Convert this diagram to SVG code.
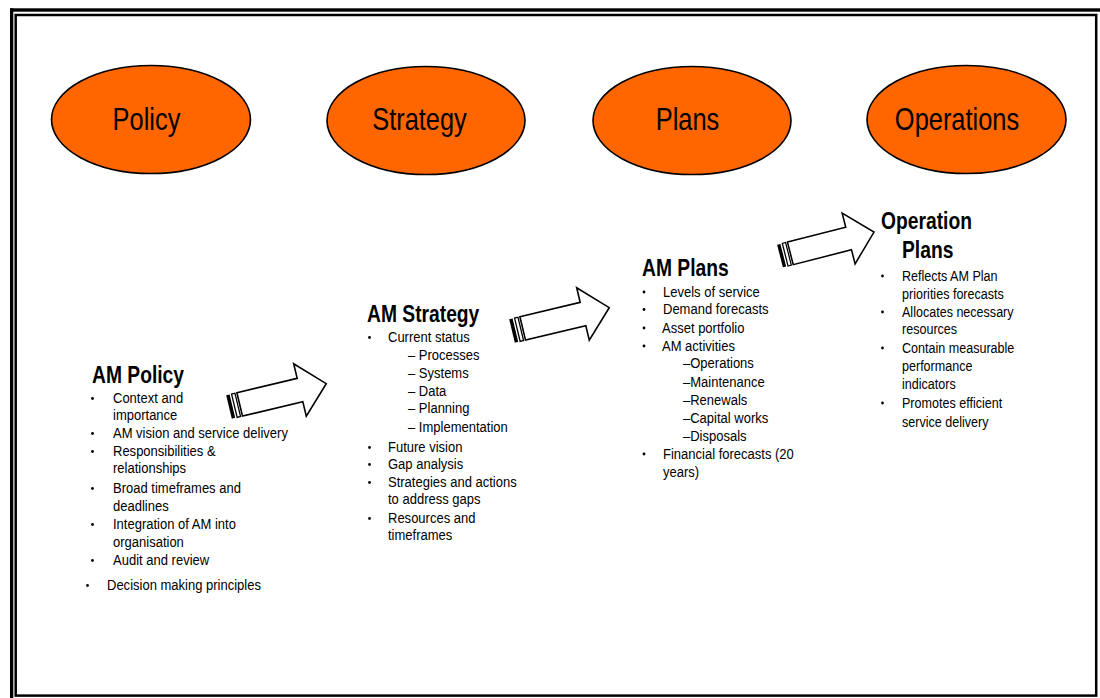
<svg xmlns="http://www.w3.org/2000/svg" xmlns:xlink="http://www.w3.org/1999/xlink" width="1100" height="698" viewBox="0 0 1100 698">
  <style>
    .stage { fill: #FF6600; stroke: #000; stroke-width: 1.6; }
    .stage-label { font-family: "Liberation Sans", Arial, sans-serif; font-size: 31px; fill: #000; text-anchor: middle; }
    .head { font-family: "Liberation Sans", Arial, sans-serif; font-size: 23.5px; font-weight: bold; fill: #000; }
    .item { font-family: "Liberation Sans", Arial, sans-serif; font-size: 15.5px; fill: #000; }
    .dot { fill: #000; }
    .frame { fill: none; stroke: #000; stroke-width: 2.5; }
    .frame-bar { fill: #000; }
  </style>
  <defs>
    <!-- striped block arrow, tail at origin, pointing along +x -->
    <g id="striped-arrow">
      <rect x="0" y="-12" width="3.5" height="24" fill="#000"/>
      <rect x="5.5" y="-12" width="3.5" height="24" fill="#fff" stroke="#000" stroke-width="1.3"/>
      <path d="M11,-12 L73,-12 L73,-27 L100,0 L73,27 L73,12 L11,12 Z" fill="#fff" stroke="#000" stroke-width="1.6" stroke-linejoin="miter"/>
    </g>
  </defs>

  <rect width="1100" height="698" fill="#fff"/>

  <!-- page frame: heavy top/left rule plus thin inner border -->
  <g id="frame">
    <rect class="frame-bar" x="10" y="8.3" width="1090" height="3.4"/>
    <rect class="frame-bar" x="10" y="8.3" width="3.3" height="690"/>
    <rect class="frame" x="15.7" y="15" width="1080.5" height="680.6"/>
  </g>

  <!-- stage ellipses -->
  <g id="stage-policy">
    <ellipse class="stage" cx="151" cy="119.5" rx="99.5" ry="54"/>
    <text class="stage-label" transform="translate(146.5 130) scale(0.82 1)">Policy</text>
  </g>
  <g id="stage-strategy">
    <ellipse class="stage" cx="426" cy="120.5" rx="99" ry="54"/>
    <text class="stage-label" transform="translate(419.5 130) scale(0.82 1)">Strategy</text>
  </g>
  <g id="stage-plans">
    <ellipse class="stage" cx="692" cy="120.5" rx="99" ry="54"/>
    <text class="stage-label" transform="translate(687.5 130) scale(0.82 1)">Plans</text>
  </g>
  <g id="stage-operations">
    <ellipse class="stage" cx="966.5" cy="119.5" rx="99.5" ry="54"/>
    <text class="stage-label" transform="translate(957 130) scale(0.82 1)">Operations</text>
  </g>

  <!-- progression arrows -->
  <g id="connectors">
    <use xlink:href="#striped-arrow" transform="translate(229 407) rotate(-13.5)"/>
    <use xlink:href="#striped-arrow" transform="translate(512 331) rotate(-13.5)"/>
    <use xlink:href="#striped-arrow" transform="translate(780 256) rotate(-14.3) scale(0.97)"/>
  </g>

  <!-- AM Policy -->
  <g id="am-policy">
    <text class="head" transform="translate(92 383) scale(0.82 1)">AM Policy</text>
    <circle class="dot" cx="92.5" cy="398.5" r="1.4"/>
    <text class="item" transform="translate(113 403) scale(0.84 1)">Context and</text>
    <text class="item" transform="translate(113 420) scale(0.84 1)">importance</text>
    <circle class="dot" cx="92.5" cy="433.5" r="1.4"/>
    <text class="item" transform="translate(113 438) scale(0.84 1)">AM vision and service delivery</text>
    <circle class="dot" cx="92.5" cy="451.5" r="1.4"/>
    <text class="item" transform="translate(113 456) scale(0.84 1)">Responsibilities &amp;</text>
    <text class="item" transform="translate(113 473) scale(0.84 1)">relationships</text>
    <circle class="dot" cx="92.5" cy="488.5" r="1.4"/>
    <text class="item" transform="translate(113 493) scale(0.84 1)">Broad timeframes and</text>
    <text class="item" transform="translate(113 511) scale(0.84 1)">deadlines</text>
    <circle class="dot" cx="92.5" cy="524.5" r="1.4"/>
    <text class="item" transform="translate(113 529) scale(0.84 1)">Integration of AM into</text>
    <text class="item" transform="translate(113 547) scale(0.84 1)">organisation</text>
    <circle class="dot" cx="92.5" cy="560.5" r="1.4"/>
    <text class="item" transform="translate(113 565) scale(0.84 1)">Audit and review</text>
    <circle class="dot" cx="87.5" cy="585.5" r="1.4"/>
    <text class="item" transform="translate(107 590) scale(0.84 1)">Decision making principles</text>
  </g>

  <!-- AM Strategy -->
  <g id="am-strategy">
    <text class="head" transform="translate(367 322) scale(0.82 1)">AM Strategy</text>
    <circle class="dot" cx="369.5" cy="337.5" r="1.4"/>
    <text class="item" transform="translate(388 342) scale(0.84 1)">Current status</text>
    <text class="item" transform="translate(408 360) scale(0.84 1)">– Processes</text>
    <text class="item" transform="translate(408 378) scale(0.84 1)">– Systems</text>
    <text class="item" transform="translate(408 396) scale(0.84 1)">– Data</text>
    <text class="item" transform="translate(408 413) scale(0.84 1)">– Planning</text>
    <text class="item" transform="translate(408 432) scale(0.84 1)">– Implementation</text>
    <circle class="dot" cx="369.5" cy="447.5" r="1.4"/>
    <text class="item" transform="translate(388 452) scale(0.84 1)">Future vision</text>
    <circle class="dot" cx="369.5" cy="464.5" r="1.4"/>
    <text class="item" transform="translate(388 469) scale(0.84 1)">Gap analysis</text>
    <circle class="dot" cx="369.5" cy="482.5" r="1.4"/>
    <text class="item" transform="translate(388 487) scale(0.84 1)">Strategies and actions</text>
    <text class="item" transform="translate(388 504) scale(0.84 1)">to address gaps</text>
    <circle class="dot" cx="369.5" cy="518.5" r="1.4"/>
    <text class="item" transform="translate(388 523) scale(0.84 1)">Resources and</text>
    <text class="item" transform="translate(388 540) scale(0.84 1)">timeframes</text>
  </g>

  <!-- AM Plans -->
  <g id="am-plans">
    <text class="head" transform="translate(642 276) scale(0.82 1)">AM Plans</text>
    <circle class="dot" cx="644" cy="292" r="1.4"/>
    <text class="item" transform="translate(663 297) scale(0.84 1)">Levels of service</text>
    <circle class="dot" cx="644" cy="309.5" r="1.4"/>
    <text class="item" transform="translate(663 314) scale(0.84 1)">Demand forecasts</text>
    <circle class="dot" cx="644" cy="328" r="1.4"/>
    <text class="item" transform="translate(662 333) scale(0.84 1)">Asset portfolio</text>
    <circle class="dot" cx="644" cy="346" r="1.4"/>
    <text class="item" transform="translate(662 351) scale(0.84 1)">AM activities</text>
    <text class="item" transform="translate(683 368) scale(0.84 1)">–Operations</text>
    <text class="item" transform="translate(683 387) scale(0.84 1)">–Maintenance</text>
    <text class="item" transform="translate(683 405) scale(0.84 1)">–Renewals</text>
    <text class="item" transform="translate(683 423) scale(0.84 1)">–Capital works</text>
    <text class="item" transform="translate(683 441) scale(0.84 1)">–Disposals</text>
    <circle class="dot" cx="644" cy="454" r="1.4"/>
    <text class="item" transform="translate(663 459) scale(0.84 1)">Financial forecasts (20</text>
    <text class="item" transform="translate(663 477) scale(0.84 1)">years)</text>
  </g>

  <!-- Operation Plans -->
  <g id="operation-plans">
    <text class="head" transform="translate(881 229) scale(0.82 1)">Operation</text>
    <text class="head" transform="translate(902 258) scale(0.82 1)">Plans</text>
    <circle class="dot" cx="882.5" cy="276" r="1.4"/>
    <text class="item" transform="translate(902 281) scale(0.81 1)">Reflects AM Plan</text>
    <text class="item" transform="translate(902 299) scale(0.81 1)">priorities forecasts</text>
    <circle class="dot" cx="882.5" cy="312" r="1.4"/>
    <text class="item" transform="translate(902 317) scale(0.81 1)">Allocates necessary</text>
    <text class="item" transform="translate(902 334) scale(0.81 1)">resources</text>
    <circle class="dot" cx="882.5" cy="348" r="1.4"/>
    <text class="item" transform="translate(902 353) scale(0.81 1)">Contain measurable</text>
    <text class="item" transform="translate(902 371) scale(0.81 1)">performance</text>
    <text class="item" transform="translate(902 389) scale(0.81 1)">indicators</text>
    <circle class="dot" cx="882.5" cy="403" r="1.4"/>
    <text class="item" transform="translate(902 408) scale(0.81 1)">Promotes efficient</text>
    <text class="item" transform="translate(902 427) scale(0.81 1)">service delivery</text>
  </g>
</svg>
